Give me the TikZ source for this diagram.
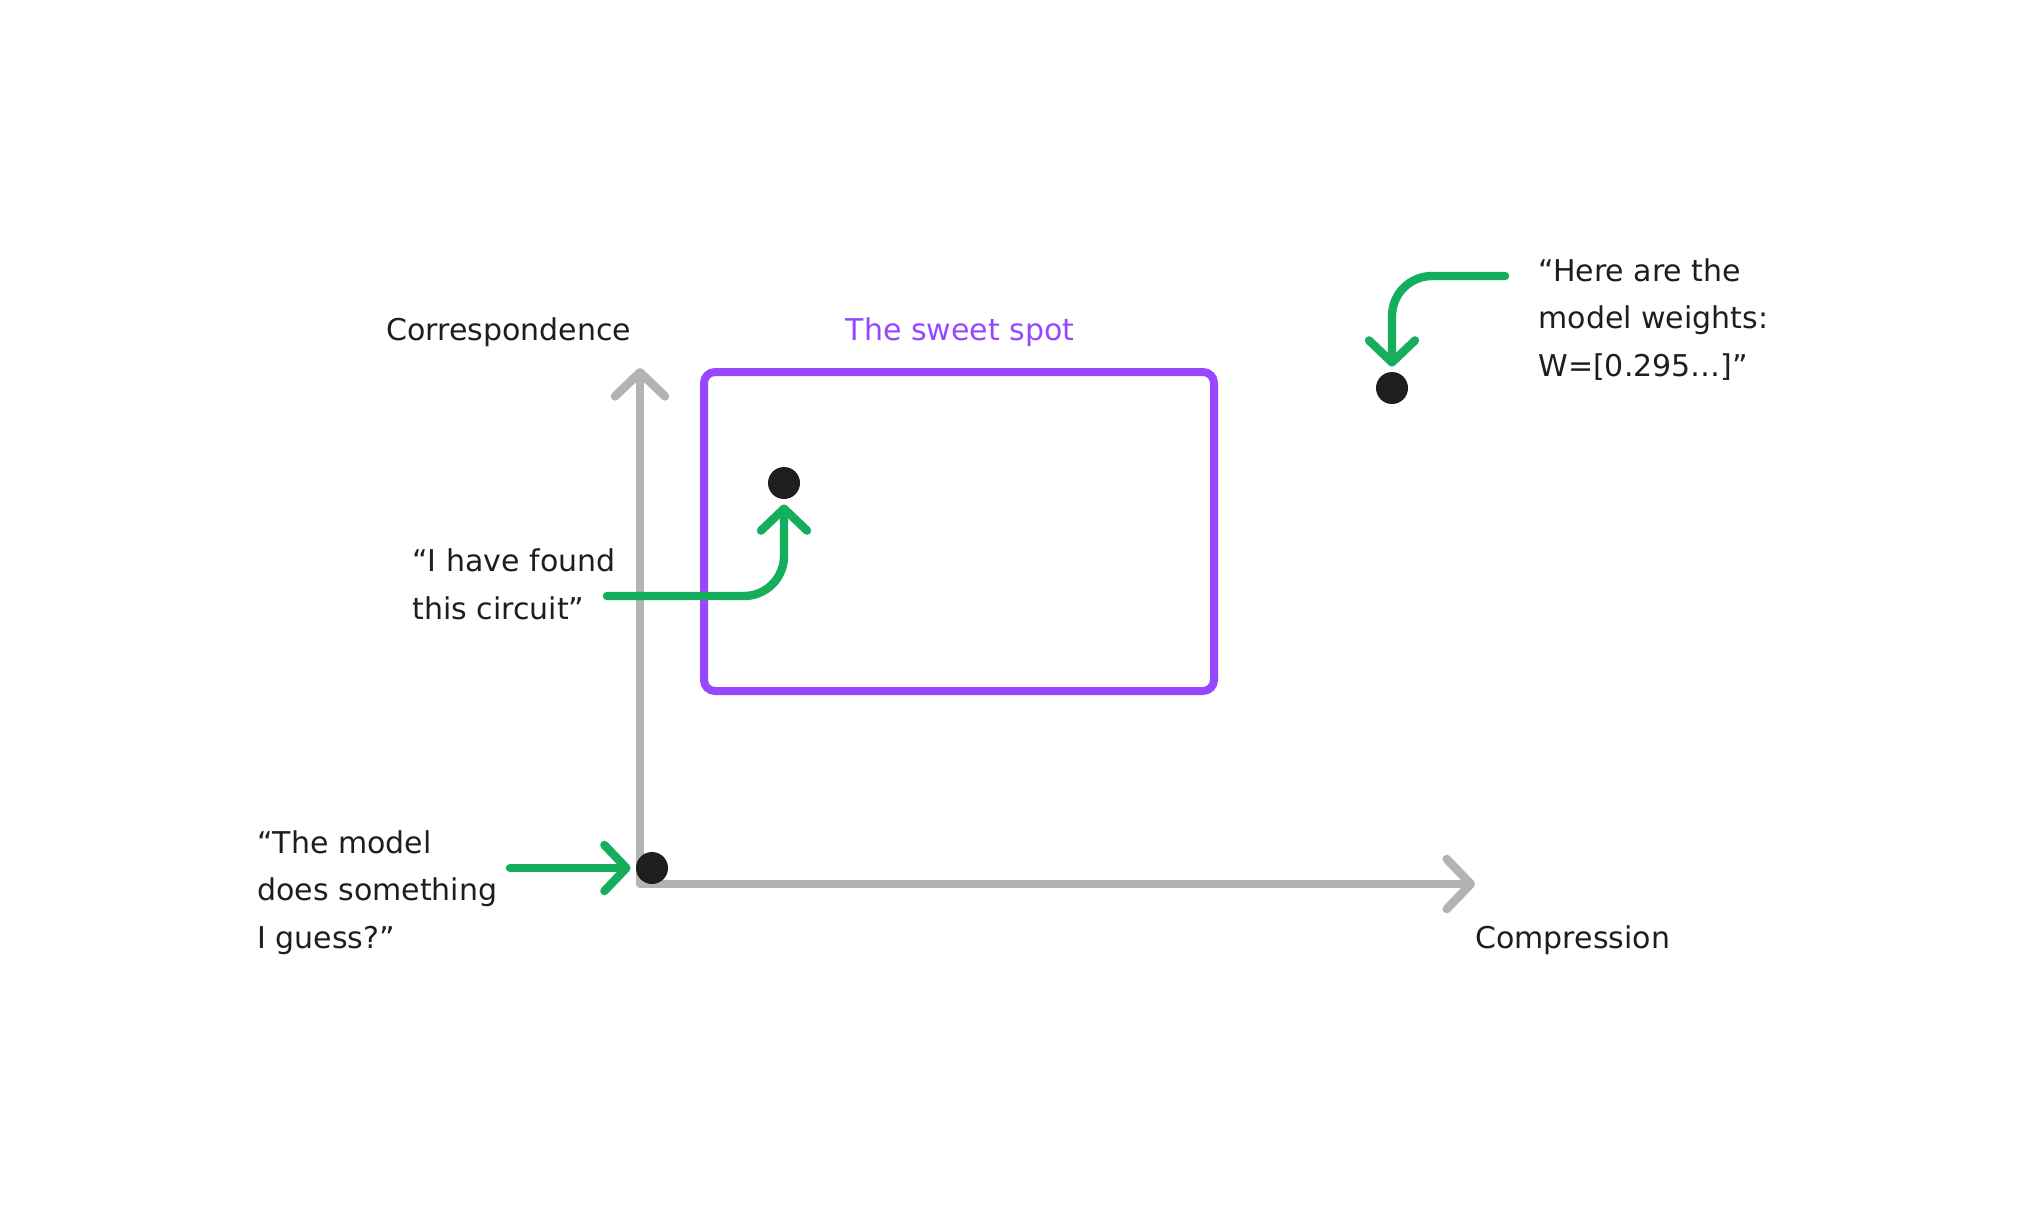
\documentclass[tikz,border=0pt]{standalone}
\usepackage{fontspec}
\setmainfont{DejaVu Sans}
\usetikzlibrary{arrows.meta}
\definecolor{axisgray}{HTML}{B3B3B3}
\definecolor{spotpurple}{HTML}{9747FF}
\definecolor{pointgreen}{HTML}{14AE5C}
\definecolor{inkblack}{HTML}{1E1E1E}
\tikzset{
  axisline/.style={draw=axisgray, line width=4.3pt, line join=round,
    {Straight Barb[length=12pt,width=25pt,round]}-{Straight Barb[length=12pt,width=25pt,round]}},
  pointer/.style={draw=pointgreen, line width=4.2pt, line cap=round, rounded corners=20pt,
    -{Straight Barb[length=11pt,width=23pt,round]}, shorten >=2.5pt},
  dot/.style={circle, fill=inkblack, inner sep=0pt, minimum size=16pt},
  spotbox/.style={draw=spotpurple, line width=4pt, rounded corners=5.5pt},
  txt/.style={text=inkblack, font=\fontsize{15pt}{23.75pt}\selectfont, inner sep=0pt, align=left},
}
\begin{document}
\begin{tikzpicture}[x=0.5pt, y=-0.5pt]
    \useasboundingbox[fill=white] (0,0) rectangle (2017,1212);
    % axes
    \coordinate (origin) at (640,884);
    \coordinate (ytip) at (640,368);
    \coordinate (xtip) at (1475,884);
    \draw[axisline] (ytip) -- (origin) -- (xtip);
    \node[txt, anchor=base] (ylabel) at (509,340) {Correspondence};
    \node[txt, anchor=base west] (xlabel) at (1475,948) {Compression};
    % sweet spot
    \node[spotbox, minimum width=255pt, minimum height=159.5pt] (spot) at (959,531.5) {};
    \node[txt, anchor=base, text=spotpurple] (spotlabel) at (960,340) {The sweet spot};
    % points
    \node[dot] (modeldot) at (652,868) {};
    \node[dot] (circuitdot) at (784,483) {};
    \node[dot] (weightdot) at (1392,388) {};
    % quotes (base = last line)
    \node[txt, anchor=base west] (guess) at (257,948) {“The model\\does something\\I guess?”};
    \node[txt, anchor=base west] (circuit) at (412,619) {“I have found\\this circuit”};
    \node[txt, anchor=base west] (weights) at (1538,376) {“Here are the\\model weights:\\W=[0.295…]”};
    \coordinate (guessfrom) at (510,868);
    \coordinate (circuitfrom) at (607,596);
    \coordinate (weightfrom) at (1505,276);
    \draw[pointer] (guessfrom) -- (modeldot);
    \draw[pointer] (circuitfrom) -| (circuitdot);
    \draw[pointer] (weightfrom) -| (weightdot);
\end{tikzpicture}
\end{document}
